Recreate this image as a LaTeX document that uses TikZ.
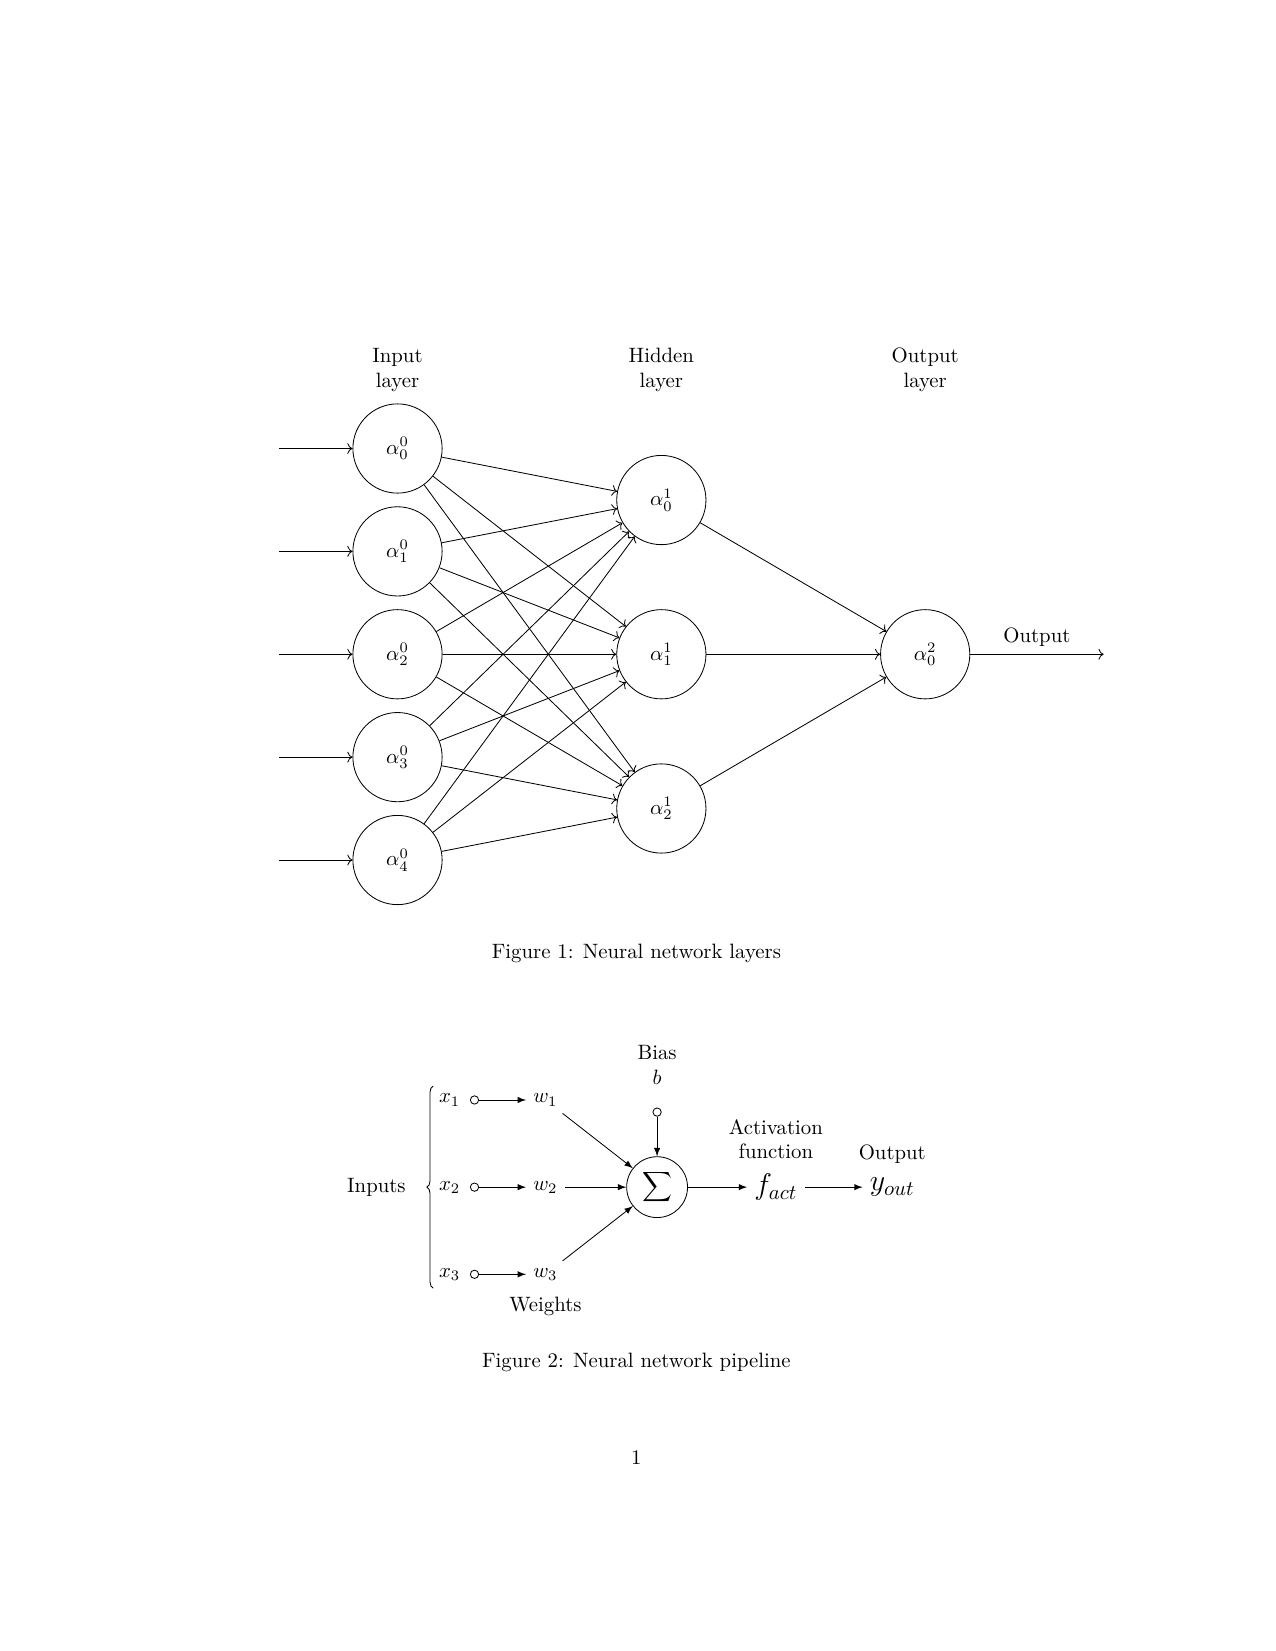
\documentclass[tikz,border=0pt]{standalone}
\usepackage{tikz}
\usetikzlibrary{arrows.meta, positioning, calc, decorations.pathreplacing}
\tikzset{
  neuron/.style={circle, draw, minimum size=1.51cm, inner sep=0pt},
  layerlabel/.style={align=center},
  conn/.style={->},
  sumnode/.style={circle, draw, minimum size=1.03cm, inner sep=0pt},
  port/.style={circle, draw, minimum size=4pt, inner sep=0pt},
  pipe/.style={-latex},
}

\begin{document}
\begin{tikzpicture}
  \useasboundingbox (0,0) rectangle (21.59,-27.94);
  % neural network layers
  \begin{scope}[shift={(6.727,-7.59)}]
    \foreach \i in {0,...,4} {
      \node[neuron] (in\i) at (0,-1.741*\i) {$\alpha^0_\i$};
      \coordinate (src\i) at (-2,-1.741*\i);
      \draw[conn] (src\i) -- (in\i);
    }
    \foreach \j in {0,1,2}
      \node[neuron] (hid\j) at (4.465,-0.872-2.61*\j) {$\alpha^1_\j$};
    \node[neuron] (out0) at (8.93,-3.482) {$\alpha^2_0$};
    \coordinate (sink) at (11.95,-3.482);
    \foreach \x/\t in {0/Input, 4.465/Hidden, 8.93/Output}
      \node[layerlabel] (lbl\t) at (\x,1.325) {\t\\layer};
    \foreach \i in {0,...,4}
      \foreach \j in {0,1,2}
        \draw[conn] (in\i) -- (hid\j);
    \foreach \j in {0,1,2}
      \draw[conn] (hid\j) -- (out0);
    \draw[conn] (out0) -- node[above] (outlbl) {Output} (sink);
  \end{scope}
  \node (cap1) at (10.77,-16.14) {Figure 1: Neural network layers};

  % neural network pipeline
  \begin{scope}[shift={(11.12,-20.09)}]
    \node[sumnode] (sum) at (0,0) {\large$\displaystyle\sum$};
    \foreach \k/\yy in {1/1.475,2/0,3/-1.475} {
      \node[port] (p\k) at (-3.09,\yy) {};
      \node (x\k) [left=0.04cm of p\k] {$x_\k$};
      \node (w\k) at (-1.89,\yy) {$w_\k$};
      \draw[pipe] (p\k) -- (w\k);
      \draw[pipe] (w\k) -- (sum);
    }
    \node[port] (bport) at (0,1.27) {};
    \draw[pipe] (bport) -- (sum);
    \node[layerlabel, above=0.27cm of bport] (bias) {Bias\\$b$};
    \node (fact) at (2.01,0) {\Large$f_{act}$};
    \node (yout) at (3.98,0) {\Large$y_{out}$};
    \draw[pipe] (sum) -- (fact);
    \draw[pipe] (fact) -- (yout);
    \node[layerlabel, above=0pt of fact] (actlbl) {Activation\\function};
    \node[above=0pt of yout] (outlbl2) {Output};
    \node[below=0.03cm of w3] (weights) {Weights};
    \coordinate (brlo) at (-3.79,-1.71);
    \coordinate (brhi) at (-3.79,1.71);
    \draw[decorate, decoration={brace, amplitude=3pt}] (brlo) -- (brhi);
    \node (inputs) at (-4.75,0) {Inputs};
  \end{scope}
  \node (cap2) at (10.77,-23.05) {Figure 2: Neural network pipeline};
  \node (pagenum) at (10.77,-24.66) {1};
\end{tikzpicture}
\end{document}
